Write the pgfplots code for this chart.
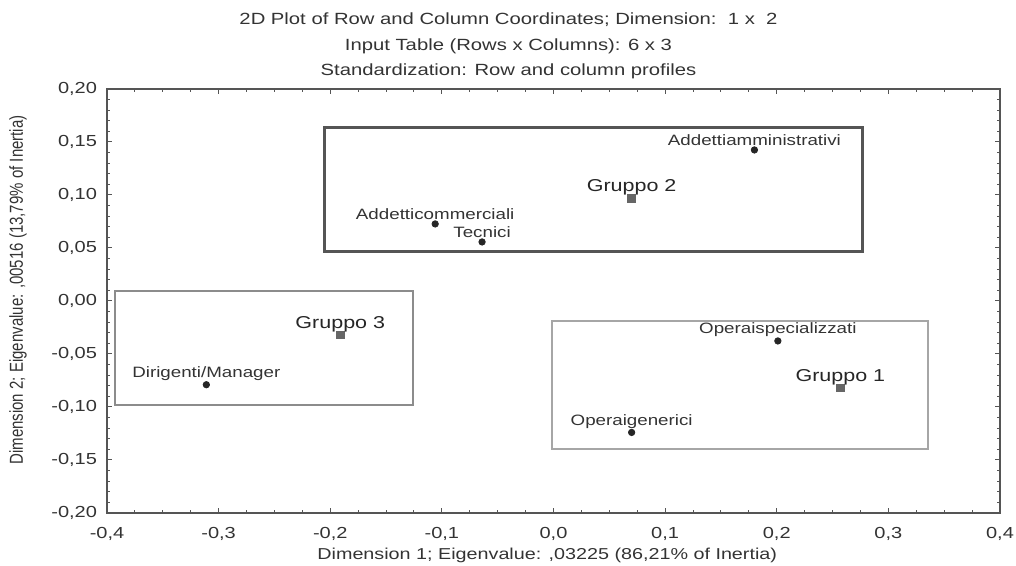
\documentclass[border=0pt]{standalone}
\usepackage{graphicx}
\usepackage{pgfplots}
\usepackage{pgfplotstable}
\pgfplotsset{compat=1.18}
\usepackage{fontspec}
\setmainfont[FakeStretch=1.25]{Liberation Sans}
\newfontfamily\plainfont{Liberation Sans}
\definecolor{txt}{HTML}{333333}
\definecolor{axc}{HTML}{555555}
\pgfplotstableread{
x y lab
0.180 0.1425 Addettiamministrativi
-0.106 0.0727 Addetticommerciali
-0.064 0.0557 Tecnici
-0.311 -0.079 Dirigenti/Manager
0.201 -0.0377 Operaispecializzati
0.070 -0.124 Operaigenerici
}\rows
\pgfplotstableread{
x y lab
0.070 0.097 {Gruppo 2}
-0.191 -0.032 {Gruppo 3}
0.257 -0.082 {Gruppo 1}
}\cols
\begin{document}
\begin{tikzpicture}
\begin{axis}[
  scale only axis, width=446.5pt, height=212pt,
  xmin=-0.4, xmax=0.4, ymin=-0.2, ymax=0.2,
  xtick={-0.4,-0.3,...,0.41}, ytick={-0.2,-0.15,...,0.21},
  minor x tick num=3, minor y tick num=4,
  tick align=inside,
  major tick length=2.5pt, minor tick length=1.5pt,
  axis line style={axc, line width=0.6pt},
  every tick/.style={axc, line width=0.5pt},
  tick label style={font=\fontsize{8}{9.5}\selectfont, text=txt},
  /pgf/number format/assume math mode=true,
  xticklabel style={yshift=-3.5pt, /pgf/number format/.cd, use comma, fixed, fixed zerofill, precision=1},
  yticklabel style={xshift=-1.5pt, /pgf/number format/.cd, use comma, fixed, fixed zerofill, precision=2},
  scaled ticks=false,
  xlabel={Dimension 1; Eigenvalue: ,03225 (86,21\% of Inertia)},
  ylabel={\scalebox{1}[1.25]{\plainfont\fontsize{7.5}{9}\selectfont Dimension 2; Eigenvalue: ,00516 (13,79\% of Inertia)}},
  label style={font=\fontsize{7.9}{9.5}\selectfont, text=txt},
  xlabel style={at={(axis description cs:0.493,-0.099)}, anchor=center},
  ylabel style={at={(axis description cs:-0.0997,0.526)}, anchor=center},
  title={2D Plot of Row and Column Coordinates; Dimension:\ \ 1 x\ \ 2\\ Input Table (Rows x Columns): 6 x 3\\ Standardization: Row and column profiles},
  title style={at={(axis description cs:0.5,1)}, anchor=south, align=center, font=\fontsize{8.1}{12.75}\selectfont, text=txt, yshift=-4.5pt, xshift=-22.5pt},
  clip=false,
]
% group boxes
\addplot[draw=axc, line width=1.5pt] coordinates {(-0.205,0.164) (0.2765,0.164) (0.2765,0.0463) (-0.205,0.0463)} --cycle;
\addplot[draw=gray!90, line width=1.3pt] coordinates {(-0.393,0.0095) (-0.126,0.0095) (-0.126,-0.098) (-0.393,-0.098)} --cycle;
\addplot[draw=gray!70, line width=1.1pt] coordinates {(-0.0013,-0.0188) (0.3356,-0.0188) (0.3356,-0.1395) (-0.0013,-0.1395)} --cycle;
% rows
\addplot[only marks, mark=*, mark size=1.6pt, color=black!85,
  nodes near coords, point meta=explicit symbolic,
  every node near coord/.append style={anchor=south, yshift=-1.5pt, font=\fontsize{7.5}{9}\selectfont, text=txt}]
  table[x=x, y=y, meta=lab]{\rows};
% columns
\addplot[only marks, mark=square*, mark size=1.9pt, color=black!60,
  nodes near coords, point meta=explicit symbolic,
  every node near coord/.append style={anchor=south, yshift=-2pt, font=\fontsize{8.6}{10}\selectfont, text=black!85}]
  table[x=x, y=y, meta=lab]{\cols};
\end{axis}
\pgfresetboundingbox
\path[use as bounding box] (-53.5pt,-26.5pt) rectangle (454.5pt,256.5pt);
\end{tikzpicture}
\end{document}
